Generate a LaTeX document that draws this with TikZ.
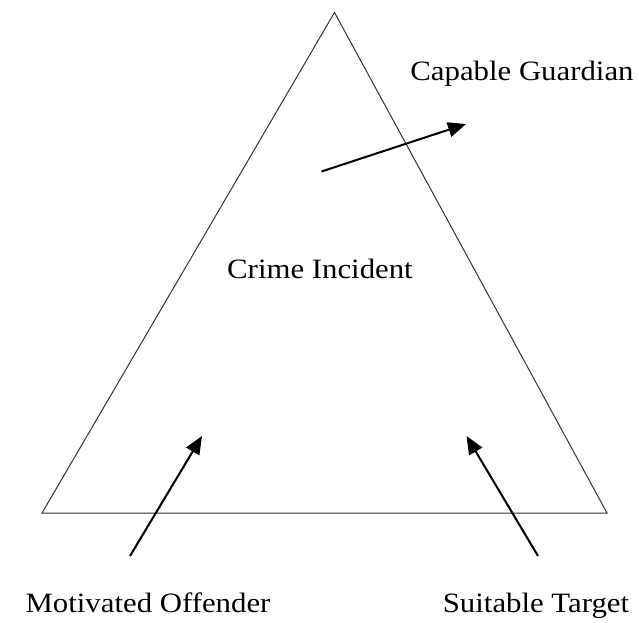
\documentclass[tikz,border=0pt]{standalone}
\usepackage{fontspec}
\setmainfont{Liberation Serif}[FakeStretch=1.1]
\usetikzlibrary{arrows.meta}
\begin{document}
\begin{tikzpicture}[x=1pt,y=-1pt,
  tri/.style={draw=black!80,line width=1pt,line join=miter},
  arr/.style={draw=black,line width=2pt,-{Triangle[length=18pt,width=15pt]}},
  lbl/.style={anchor=base,inner sep=0pt,font=\fontsize{28}{32}\selectfont}]
\useasboundingbox (0,0) rectangle (639,622);
\coordinate (A) at (334.5,12.5);
\coordinate (B) at (42,513);
\coordinate (C) at (607,513);
\draw[tri] (A) -- (B) -- (C) -- cycle;
\node[lbl] (cg) at (522,80) {Capable Guardian};
\node[lbl] (ci) at (320,278) {Crime Incident};
\node[lbl] (mo) at (148,612) {Motivated Offender};
\node[lbl] (st) at (536,612) {Suitable Target};
\coordinate (g0) at (321.5,171.5);
\coordinate (g1) at (466,124);
\coordinate (o0) at (130,556);
\coordinate (o1) at (202,436);
\coordinate (t0) at (538,556);
\coordinate (t1) at (466.5,436);
\draw[arr] (g0) -- (g1);
\draw[arr] (o0) -- (o1);
\draw[arr] (t0) -- (t1);
\end{tikzpicture}
\end{document}
